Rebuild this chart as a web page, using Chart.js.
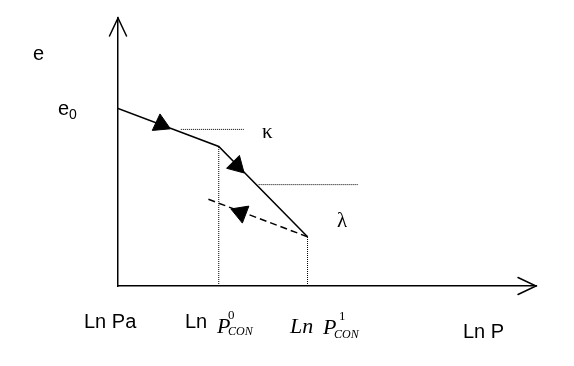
<!DOCTYPE html>
<html><head><meta charset="utf-8">
<script src="https://cdn.jsdelivr.net/npm/chart.js@4.4.0/dist/chart.umd.min.js"></script>
<style>html,body{margin:0;padding:0;background:#fff}#wrap{width:574px;height:366px;position:relative}</style>
</head><body><div id="wrap"><canvas id="c" width="574" height="366"></canvas></div>
<script>
// Data (arbitrary units: ln P on x, void ratio e on y)
const loadLnP = [0, 10.1, 19];
const loadE = [17.7, 13.9, 4.9];
const unloadLnP = [19, 8.9];
const unloadE = [4.9, 8.7];
const guideP0X = [10.1, 10.1]; const guideP0Y = [0, 13.9];
const guideP1X = [19, 19];     const guideP1Y = [0, 4.9];
const kappaGuideX = [6.3, 12.6]; const kappaGuideY = [15.6, 15.6];
const lambdaGuideX = [14.1, 24.1]; const lambdaGuideY = [10.1, 10.1];
const arrowX = [4.3, 11.9, 12.3];
const arrowY = [16.1, 12.0, 7.3];
const arrowAngle = [115, 135, 291];
const xMax = 41.9, yMax = 26.7;

const pts = (xs, ys) => xs.map((x, i) => ({x, y: ys[i]}));
const lineDs = (xs, ys, dash, w) => ({
  data: pts(xs, ys), showLine: true, borderColor: '#000', borderWidth: w,
  borderDash: dash, pointRadius: 0, fill: false, tension: 0
});

const decor = {
  id: 'decor',
  afterDraw(chart) {
    const ctx = chart.ctx, a = chart.chartArea;
    ctx.save();
    ctx.strokeStyle = '#000'; ctx.lineWidth = 1.5; ctx.lineCap = 'round';
    ctx.beginPath();
    ctx.moveTo(a.left - 8.5, a.top + 18); ctx.lineTo(a.left, a.top); ctx.lineTo(a.left + 8.5, a.top + 18);
    ctx.moveTo(a.right - 18, a.bottom - 8.5); ctx.lineTo(a.right, a.bottom); ctx.lineTo(a.right - 18, a.bottom + 8.5);
    ctx.stroke();
    ctx.fillStyle = '#000';
    ctx.textBaseline = 'alphabetic'; ctx.textAlign = 'left';
    const sans = s => s + 'px "Liberation Sans", Arial, sans-serif';
    const serif = s => s + 'px "Liberation Serif", "Times New Roman", serif';
    const iserif = s => 'italic ' + s + 'px "Liberation Serif", "Times New Roman", serif';
    const t = (txt, x, y, f) => { ctx.font = f; ctx.fillText(txt, x, y); };
    t('e', 33, 60, sans(20));
    t('e', 58, 115, sans(20));
    t('0', 69, 119, sans(14));
    t('Ln Pa', 84, 328, sans(20));
    t('Ln', 185, 328, sans(20));
    t('P', 217, 333, iserif(22));
    t('0', 228, 319, serif(13));
    t('CON', 228, 335, iserif(12));
    t('Ln', 290, 333, iserif(22));
    t('P', 323, 334, iserif(22));
    t('1', 339, 320, serif(13));
    t('CON', 334, 338, iserif(12));
    t('Ln P', 463, 338, sans(20));
    t('\u03BA', 262, 138, serif(21));
    t('\u03BB', 337, 227, serif(21));
    ctx.restore();
  }
};

new Chart(document.getElementById('c'), {
  type: 'scatter',
  data: {
    datasets: [
      lineDs(loadLnP, loadE, [], 1.5),
      lineDs(unloadLnP, unloadE, [7, 4], 1.5),
      lineDs(guideP0X, guideP0Y, [1, 1], 1),
      lineDs(guideP1X, guideP1Y, [1, 1], 1),
      lineDs(kappaGuideX, kappaGuideY, [1, 1], 1),
      lineDs(lambdaGuideX, lambdaGuideY, [1, 1], 1),
      {
        data: pts(arrowX, arrowY), showLine: false, pointStyle: 'triangle',
        pointRadius: 10.5, pointRotation: arrowAngle, backgroundColor: '#000',
        borderColor: '#000', borderWidth: 1, pointHoverRadius: 10.5
      }
    ]
  },
  options: {
    responsive: false, animation: false, devicePixelRatio: 1,
    layout: { padding: { left: 110, top: 18, right: 38, bottom: 72 } },
    plugins: { legend: { display: false }, tooltip: { enabled: false } },
    scales: {
      x: { type: 'linear', min: 0, max: xMax, grid: { display: false },
           ticks: { display: false }, border: { display: true, color: '#000', width: 1.5 } },
      y: { type: 'linear', min: 0, max: yMax, grid: { display: false },
           ticks: { display: false }, border: { display: true, color: '#000', width: 1.5 } }
    }
  },
  plugins: [decor]
});
</script></body></html>
